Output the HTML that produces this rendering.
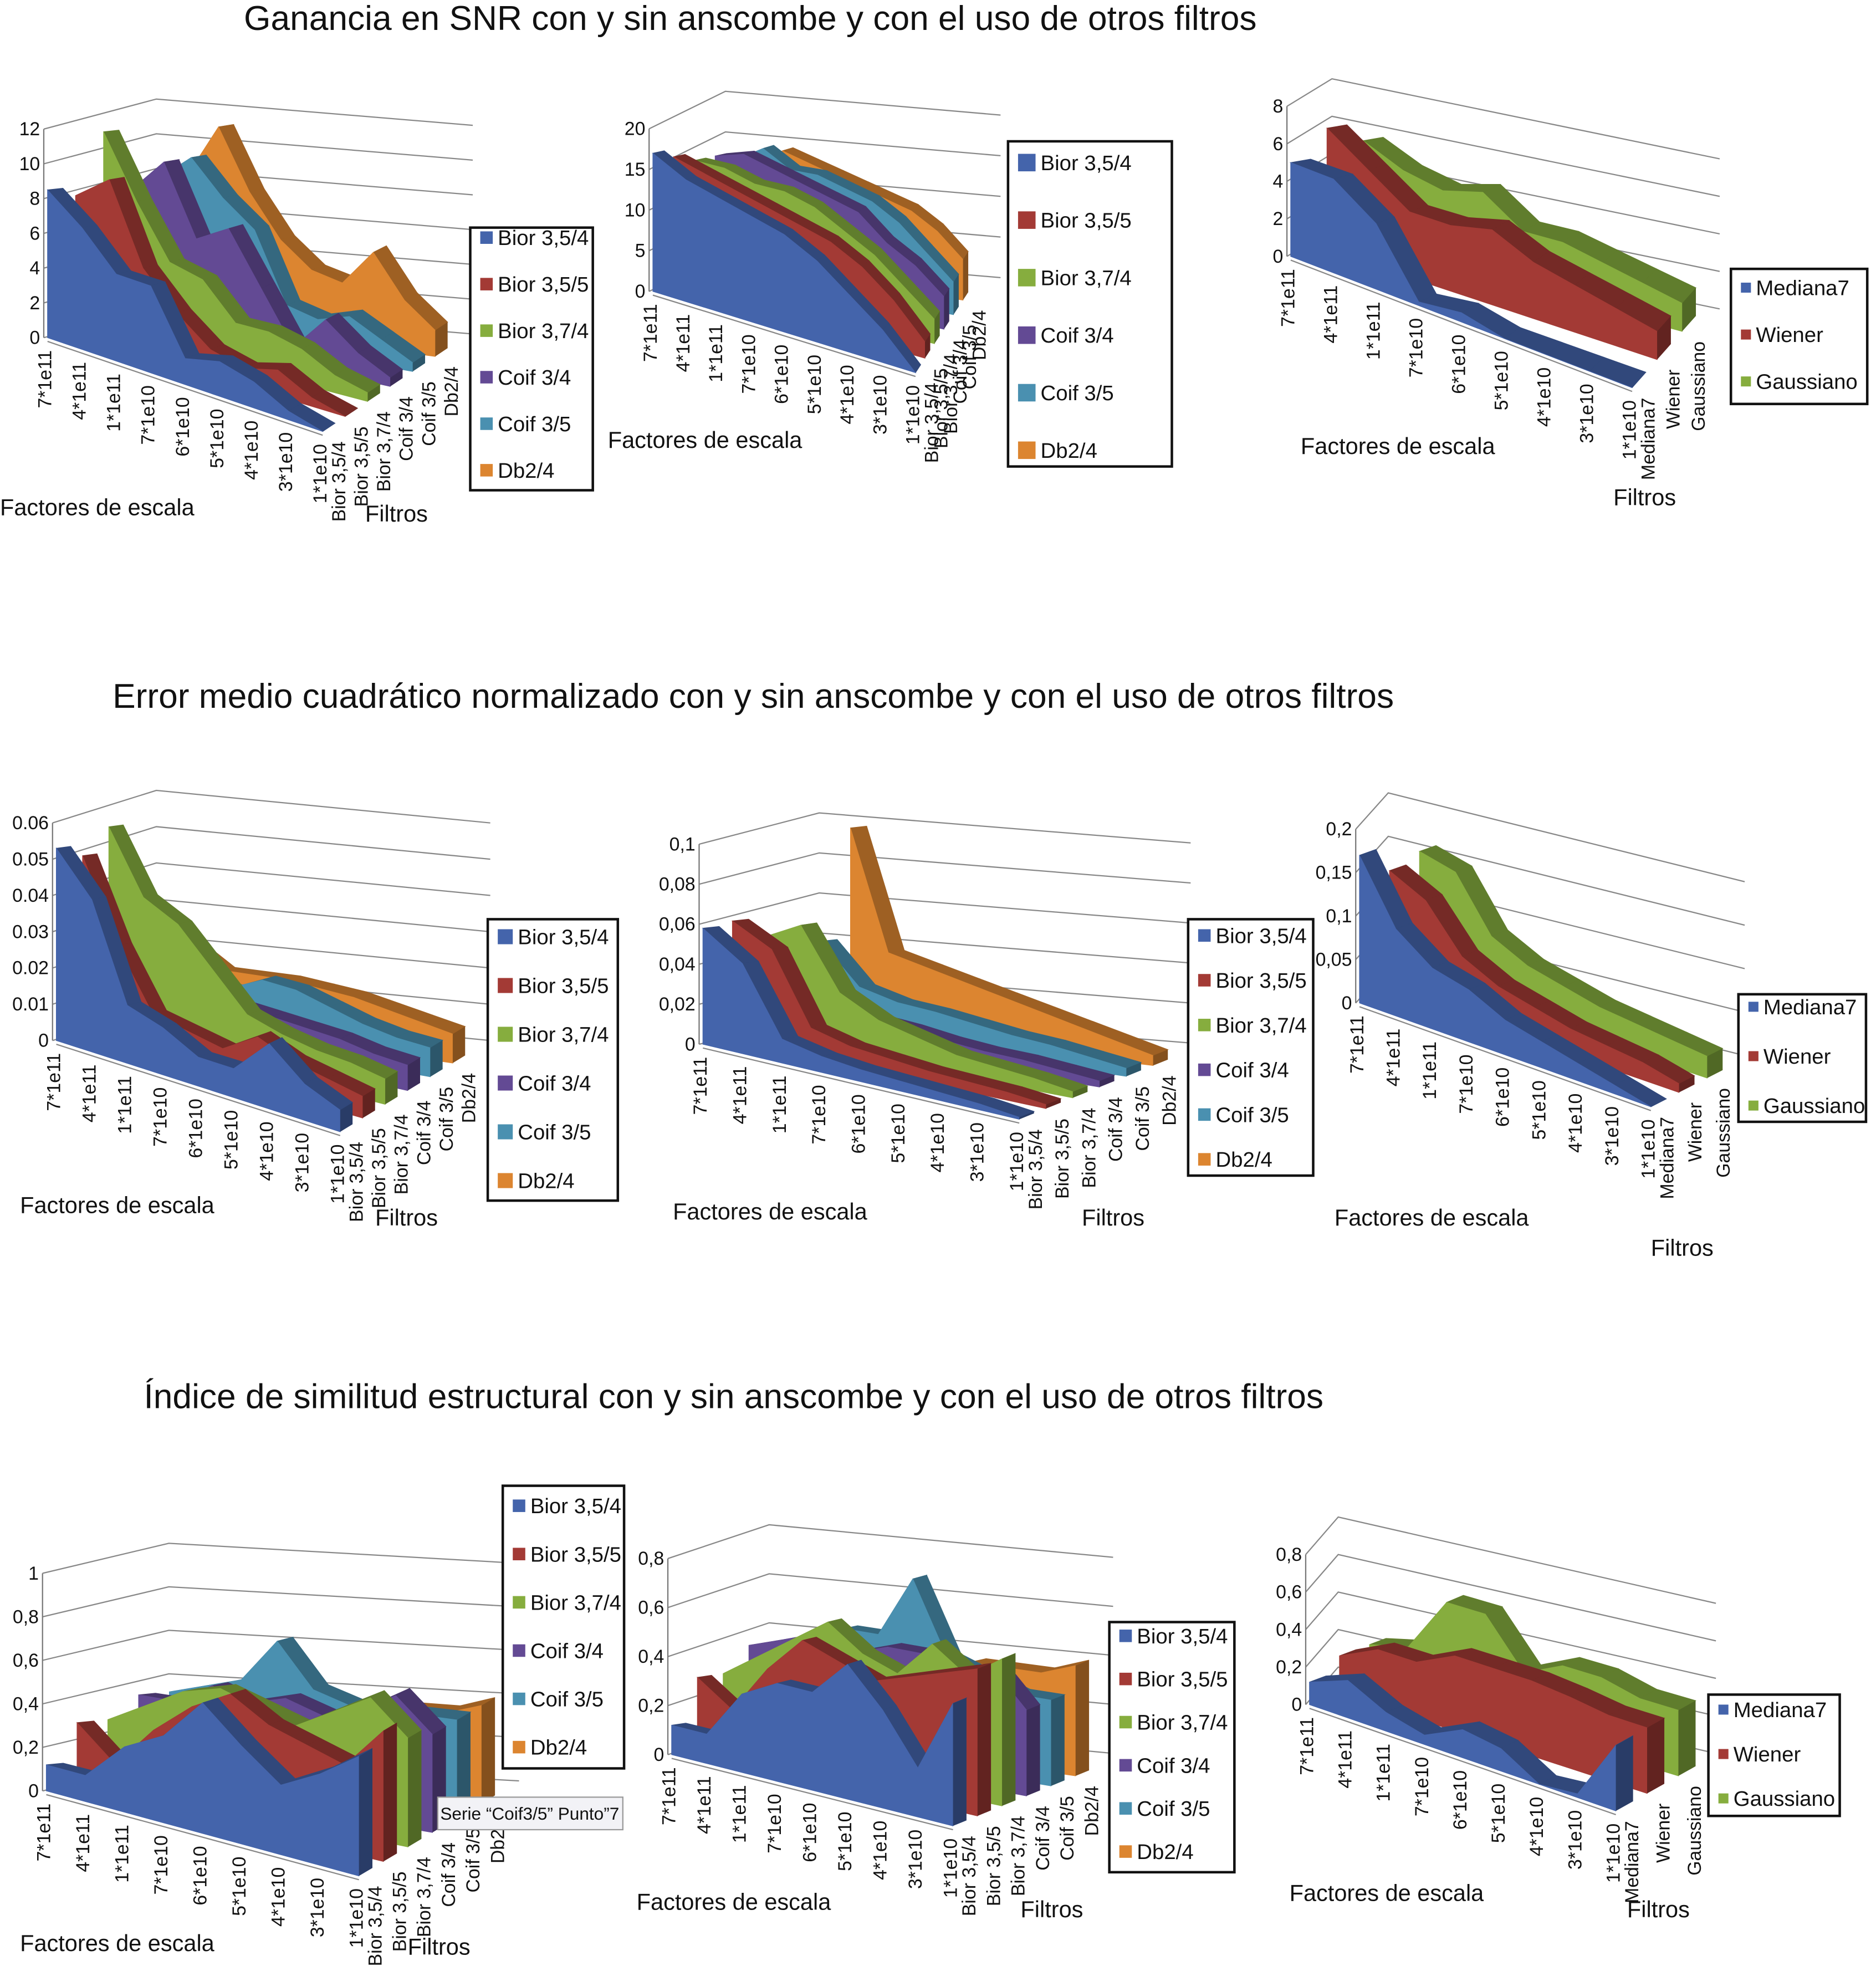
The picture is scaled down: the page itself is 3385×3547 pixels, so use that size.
<!DOCTYPE html>
<html><head><meta charset="utf-8"><style>
html,body{margin:0;padding:0;background:#fff}
svg{display:block}
text{font-family:"Liberation Sans",Arial,sans-serif;fill:#111}
</style></head><body>
<svg id="root" xmlns="http://www.w3.org/2000/svg" width="3385" height="3547" viewBox="0 0 1500 1572" preserveAspectRatio="none">
<rect width="1500" height="1572" fill="#fff"/>
<text x="195" y="24" font-size="27.6">Ganancia en SNR con y sin anscombe y con el uso de otros filtros</text>
<text x="90" y="566" font-size="27.6">Error medio cuadrático normalizado con y sin anscombe y con el uso de otros filtros</text>
<text x="115" y="1126" font-size="27.6">Índice de similitud estructural con y sin anscombe y con el uso de otros filtros</text>
<g id="charts"></g>
<g>
<rect x="350" y="1437" width="148" height="26" fill="#f2f2f6" stroke="#999"/>
<text x="352" y="1455" font-size="14">Serie “Coif3/5” Punto”7</text>
</g>
</svg>
<script>
const CATS=["7*1e11","4*1e11","1*1e11","7*1e10","6*1e10","5*1e10","4*1e10","3*1e10","1*1e10"];
const W6=["Bior 3,5/4","Bior 3,5/5","Bior 3,7/4","Coif 3/4","Coif 3/5","Db2/4"];
const F3=["Mediana7","Wiener","Gaussiano"];
// Chart 1 SNR wavelet
const snr1_b354=[8.5,7,5,5,1.5,2,1.5,0.5,0];
const snr1_b355=[8,9.5,5,3,1.5,1,1.5,0.5,0];
const snr1_b374=[11.5,8,5,4.5,2.5,2.5,2,1,0.5];
const snr1_c34=[8,10,6,7,4,1,3,1.5,0.5];
const snr1_c35=[8.5,10,8,6.5,2.5,2,2.5,1.5,0.5];
const snr1_db24=[8.5,11.5,8,5.5,4,3.5,5.5,3,1.5];
const snr1_ticks=["0","2","4","6","8","10","12"];
// Chart 2 SNR anscombe
const snr2_b354=[17,15,14,13,12,10,7,4,0];
const snr2_b355=[16,15,14,13,12,11,9,6,2];
const snr2_b374=[15,15,14,14,13,11,9,6,3];
const snr2_c34=[15,16,15,14,13,12,9,7,4];
const snr2_c35=[14,16,14,14,13,12,10,7,4];
const snr2_db24=[13,15,14,13,12,11,10,8,5];
const snr2_ticks=["0","5","10","15","20"];
// Chart 3 SNR other filters
const snr3_med=[5,5,3.5,0.2,0.5,0,0,0,0];
const snr3_wie=[6.5,5,3.5,3.5,4,3,2.5,2,1.5];
const snr3_gau=[5.5,4.5,4,4.5,3,3,2.5,2,1.5];
const snr3_ticks=["0","2","4","6","8"];
// Chart 4 MSE wavelet
const mse1_b354=[0.053,0.042,0.016,0.013,0.008,0.008,0.018,0.01,0.006];
const mse1_b355=[0.05,0.028,0.012,0.01,0.008,0.014,0.01,0.008,0.006];
const mse1_b374=[0.057,0.04,0.035,0.025,0.015,0.012,0.01,0.009,0.007];
const mse1_c34=[0.02,0.016,0.012,0.013,0.012,0.011,0.01,0.008,0.007];
const mse1_c35=[0.018,0.016,0.014,0.018,0.017,0.014,0.011,0.009,0.008];
const mse1_db24=[0.022,0.016,0.016,0.016,0.015,0.014,0.012,0.01,0.008];
const mse1_ticks=["0","0.01","0.02","0.03","0.04","0.05","0.06"];
// Chart 5 MSE anscombe
const mse2_b354=[0.058,0.045,0.012,0.008,0.006,0.005,0.004,0.003,0.001];
const mse2_b355=[0.06,0.05,0.015,0.01,0.008,0.006,0.005,0.004,0.002];
const mse2_b374=[0.05,0.06,0.03,0.02,0.015,0.01,0.008,0.006,0.003];
const mse2_c34=[0.03,0.02,0.015,0.013,0.01,0.008,0.007,0.005,0.003];
const mse2_c35=[0.045,0.025,0.02,0.018,0.015,0.012,0.01,0.007,0.004];
const mse2_db24=[0.1,0.04,0.035,0.03,0.025,0.02,0.015,0.01,0.005];
const mse2_ticks=["0","0,02","0,04","0,06","0,08","0,1"];
// Chart 6 MSE other filters
const mse3_med=[0.17,0.1,0.07,0.06,0.04,0.03,0.02,0.01,0];
const mse3_wie=[0.14,0.12,0.07,0.05,0.04,0.03,0.025,0.02,0.01];
const mse3_gau=[0.15,0.14,0.08,0.06,0.05,0.04,0.035,0.03,0.025];
const mse3_ticks=["0","0,05","0,1","0,15","0,2"];
// Chart 7 SSIM wavelet
const ss1_b354=[0.12,0.12,0.3,0.4,0.6,0.45,0.32,0.42,0.55];
const ss1_b355=[0.3,0.15,0.35,0.5,0.6,0.5,0.45,0.4,0.6];
const ss1_b374=[0.3,0.4,0.5,0.55,0.5,0.45,0.55,0.65,0.5];
const ss1_c34=[0.4,0.4,0.5,0.45,0.5,0.45,0.5,0.6,0.45];
const ss1_c35=[0.4,0.45,0.5,0.7,0.5,0.45,0.45,0.45,0.45];
const ss1_db24=[0.3,0.35,0.4,0.4,0.35,0.4,0.4,0.4,0.45];
const ss1_ticks=["0","0,2","0,4","0,6","0,8","1"];
// Chart 8 SSIM anscombe
const ss2_b354=[0.12,0.12,0.32,0.4,0.4,0.55,0.4,0.2,0.5];
const ss2_b355=[0.3,0.2,0.4,0.55,0.5,0.45,0.5,0.55,0.6];
const ss2_b374=[0.3,0.4,0.5,0.6,0.5,0.45,0.6,0.5,0.6];
const ss2_c34=[0.4,0.45,0.5,0.45,0.5,0.5,0.45,0.5,0.35];
const ss2_c35=[0.35,0.4,0.5,0.5,0.75,0.45,0.4,0.35,0.35];
const ss2_db24=[0.3,0.3,0.35,0.4,0.35,0.4,0.4,0.4,0.45];
const ss2_ticks=["0","0,2","0,4","0,6","0,8"];
// Chart 9 SSIM other filters
const ss3_med=[0.12,0.2,0.1,0.05,0.15,0.12,0.0,0.02,0.35];
const ss3_wie=[0.2,0.3,0.3,0.4,0.4,0.4,0.38,0.35,0.35];
const ss3_gau=[0.2,0.25,0.55,0.55,0.3,0.4,0.4,0.35,0.35];
const ss3_ticks=["0","0,2","0,4","0,6","0,8"];

const COL6=["#4464ab","#a33a35","#86ad3e","#634a94","#4a90b0","#dc8530"];
const COL3=["#4464ab","#a33a35","#86ad3e"];
const NS="http://www.w3.org/2000/svg";
const root=document.getElementById('charts');
function mk(tag,attrs,parent){const e=document.createElementNS(NS,tag);for(const k in attrs)e.setAttribute(k,attrs[k]);(parent||root).appendChild(e);return e;}
function shade(hex,f){const n=parseInt(hex.slice(1),16);let r=n>>16,g=(n>>8)&255,b=n&255;const c=v=>Math.max(0,Math.min(255,Math.round(f<1?v*f:v+(255-v)*(f-1))));return "rgb("+c(r)+","+c(g)+","+c(b)+")";}

function draw(cfg){
  const g=mk('g',{});
  
  
  const [P00,P10,P01,P11]=cfg.c;
  const S=cfg.series.length,N=CATS.length;
  function bil(u,v){const a=[P00[0]+(P10[0]-P00[0])*u,P00[1]+(P10[1]-P00[1])*u];const b=[P01[0]+(P11[0]-P01[0])*u,P01[1]+(P11[1]-P01[1])*u];return [a[0]+(b[0]-a[0])*v,a[1]+(b[1]-a[1])*v];}
  const ys=v=>v*cfg.scale;
  const back0=[P01[0]-25,P01[1]-12];
  const backR=[P11[0]+30,P11[1]-18];
  cfg.ticks.forEach((t,i)=>{
    const v=i*cfg.step, h=ys(v);
    const gl=mk('polyline',{points:`${P00[0]-3},${P00[1]-h} ${back0[0]},${back0[1]-h} ${backR[0]},${backR[1]-h}`,fill:'none',stroke:'#888','stroke-width':1},g);
    
    
    const tl=mk('text',{x:P00[0]-6,y:P00[1]-h+5,'font-size':15,'text-anchor':'end'},g);
    tl.textContent=t;
    
    
  });
  const ax=mk('line',{x1:P00[0]-3,y1:P00[1],x2:P00[0]-3,y2:P00[1]-ys((cfg.ticks.length-1)*cfg.step),stroke:'#777'},g);
  
  
  for(let s=S-1;s>=0;s--){
    const data=cfg.series[s],col=cfg.cols[s];
    const v0=S>1?s/(S-1):0;
    const dv=S>1?0.55/(S-1):0.3;
    const sg=mk('g',{},g);
    
    
    const base=[],top=[],base2=[],top2=[];
    for(let i=0;i<N;i++){
      const u=i/(N-1);const b=bil(u,v0),b2=bil(u,v0+dv);
      base.push(b);top.push([b[0],b[1]-ys(data[i])]);
      base2.push(b2);top2.push([b2[0],b2[1]-ys(data[i])]);
    }
    for(let i=0;i<N-1;i++){
      const p=mk('polygon',{points:[top[i],top[i+1],top2[i+1],top2[i]].map(q=>q.join(',')).join(' '),fill:shade(col,0.72),stroke:shade(col,0.72),'stroke-width':0.5},sg);
      
      
    }
    const front=mk('polygon',{points:top.concat(base.slice().reverse()).map(q=>q.join(',')).join(' '),fill:col,stroke:col,'stroke-width':0.5},sg);
    
    
    const endf=mk('polygon',{points:[top[N-1],top2[N-1],base2[N-1],base[N-1]].map(q=>q.join(',')).join(' '),fill:shade(col,0.6)},sg);
    
    
    const sl=bil(1,v0);
    const st=mk('text',{transform:`translate(${sl[0]+18},${sl[1]+8}) rotate(-90)`,'font-size':15,'text-anchor':'end'},g);
    st.textContent=cfg.names[s];
    
    
  }
  const fl=mk('line',{x1:P00[0],y1:P00[1]+3,x2:P10[0],y2:P10[1]+3,stroke:'#888'},g);
  
  
  CATS.forEach((c,i)=>{
    const b=bil(i/(N-1),0);
    const t=mk('text',{transform:`translate(${b[0]+3},${b[1]+10}) rotate(-90)`,'font-size':15,'text-anchor':'end'},g);
    t.textContent=c;
    
    
  });
  const xt=mk('text',{x:cfg.xt[0],y:cfg.xt[1],'font-size':18.4},g);
  xt.textContent='Factores de escala';
  
  
  if(cfg.ft){const ft=mk('text',{x:cfg.ft[0],y:cfg.ft[1],'font-size':18.4},g);ft.textContent='Filtros';
    
    }
  const L=cfg.leg;
  const lg=mk('g',{},g);
  
  
  mk('rect',{x:L[0],y:L[1],width:L[2]-L[0],height:L[3]-L[1],fill:'#fff',stroke:'#111','stroke-width':2},lg);
  cfg.names.forEach((n,i)=>{
    const y=L[4]+i*L[5];
    const e=mk('g',{},lg);
    
    
    mk('rect',{x:L[0]+8,y:y-7,width:L[6],height:L[6],fill:cfg.cols[i]},e);
    const t=mk('text',{x:L[0]+12+L[6],y:y+L[6]/2-1,'font-size':17},e);t.textContent=n;
  });
}
draw({name:'chart-snr-wavelet',c:[[38,270],[258,345],[150,258],[348,285]],scale:13.9,step:2,ticks:snr1_ticks,series:[snr1_b354,snr1_b355,snr1_b374,snr1_c34,snr1_c35,snr1_db24],names:W6,cols:COL6,xt:[0,412],ft:[292,417],leg:[376,182,474,392,192,37.2,10]});
draw({name:'chart-snr-anscombe',c:[[522,233],[732,298],[605,215],[770,240]],scale:6.5,step:5,ticks:snr2_ticks,series:[snr2_b354,snr2_b355,snr2_b374,snr2_c34,snr2_c35,snr2_db24],names:W6,cols:COL6,xt:[486,358],ft:null,leg:[806,113,937,373,130,46,14]});
draw({name:'chart-snr-filters',c:[[1032,205],[1305,310],[1090,195],[1345,265]],scale:15,step:2,ticks:snr3_ticks,series:[snr3_med,snr3_wie,snr3_gau],names:F3,cols:COL3,xt:[1040,363],ft:[1290,404],leg:[1384,215,1493,323,233,37.5,8]});
draw({name:'chart-mse-wavelet',c:[[45,832],[272,905],[150,818],[362,850]],scale:2900,step:0.01,ticks:mse1_ticks,series:[mse1_b354,mse1_b355,mse1_b374,mse1_c34,mse1_c35,mse1_db24],names:W6,cols:COL6,xt:[16,970],ft:[300,980],leg:[390,735,494,960,750,39,12]});
draw({name:'chart-mse-anscombe',c:[[562,835],[815,895],[680,822],[922,852]],scale:1600,step:0.02,ticks:mse2_ticks,series:[mse2_b354,mse2_b355,mse2_b374,mse2_c34,mse2_c35,mse2_db24],names:W6,cols:COL6,xt:[538,975],ft:[865,980],leg:[950,735,1050,940,750,35.8,10]});
draw({name:'chart-mse-filters',c:[[1087,802],[1320,885],[1135,785],[1365,862]],scale:695,step:0.05,ticks:mse3_ticks,series:[mse3_med,mse3_wie,mse3_gau],names:F3,cols:COL3,xt:[1067,980],ft:[1320,1004],leg:[1390,795,1492,897,808,39.5,8]});
draw({name:'chart-ssim-wavelet',c:[[37,1432],[287,1500],[160,1420],[385,1442]],scale:174,step:0.2,ticks:ss1_ticks,series:[ss1_b354,ss1_b355,ss1_b374,ss1_c34,ss1_c35,ss1_db24],names:W6,cols:COL6,xt:[16,1560],ft:[326,1563],leg:[402,1188,499,1414,1206,38.6,10]});
draw({name:'chart-ssim-anscombe',c:[[537,1403],[762,1460],[640,1388],[860,1420]],scale:196,step:0.2,ticks:ss2_ticks,series:[ss2_b354,ss2_b355,ss2_b374,ss2_c34,ss2_c35,ss2_db24],names:W6,cols:COL6,xt:[509,1527],ft:[816,1533],leg:[887,1297,987,1497,1310,34.5,10]});
draw({name:'chart-ssim-filters',c:[[1047,1363],[1292,1448],[1095,1345],[1342,1420]],scale:150,step:0.2,ticks:ss3_ticks,series:[ss3_med,ss3_wie,ss3_gau],names:F3,cols:COL3,xt:[1031,1520],ft:[1301,1533],leg:[1366,1355,1471,1452,1370,35.5,8]});
</script>
</body></html>
